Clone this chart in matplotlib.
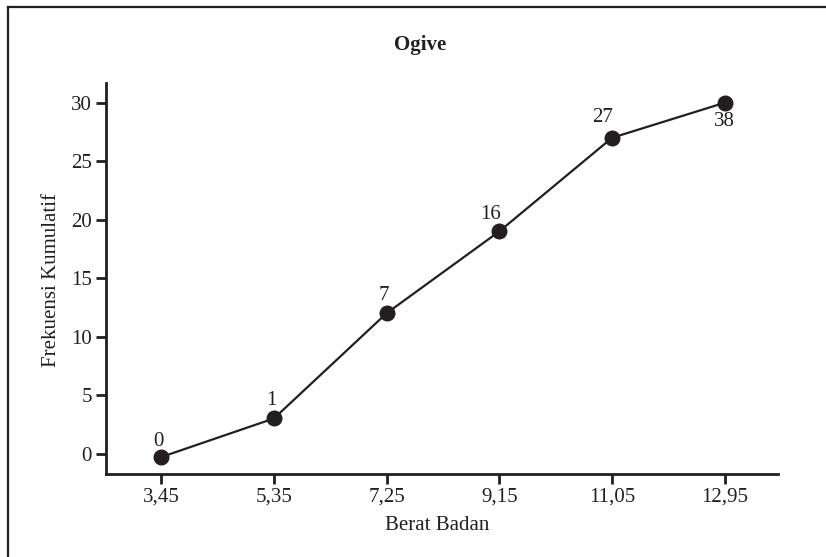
import matplotlib
matplotlib.use("Agg")
import matplotlib.pyplot as plt
from matplotlib.lines import Line2D

# Data
categories = ["3,45", "5,35", "7,25", "9,15", "11,05", "12,95"]
values = [-0.3, 3, 12, 19, 27, 30]
point_labels = ["0", "1", "7", "16", "27", "38"]
yticks = [0, 5, 10, 15, 20, 25, 30]

# Style
label_offsets = [(-2, 11.5), (-2, 12.7), (-2, 13), (-6, 12), (-7, 14.4), (0, -13.7)]
ink = "#231f20"
fs = 15
plt.rcParams["font.family"] = ["Liberation Serif", "DejaVu Serif"]

W, H = 826, 557
fig = plt.figure(figsize=(W / 100, H / 100), dpi=100)
ax = fig.add_axes([106 / W, 1 - 474 / H, (778.3 - 106) / W, (474 - 83.3) / H])

x = list(range(len(categories)))
ax.plot(x, values, color=ink, lw=1.6, marker="o", markersize=10.5,
        markerfacecolor=ink, markeredgecolor=ink, zorder=3, clip_on=False)

for xi, yi, lab, off in zip(x, values, point_labels, label_offsets):
    ax.annotate(lab, (xi, yi), xytext=off, textcoords="offset points",
                ha="center", va="center", fontsize=fs, color=ink)

ax.set_xlim(-0.49, 5.475)
ax.set_ylim(-1.75, 31.66)
ax.set_xticks(x)
ax.set_xticklabels(categories)
ax.set_yticks(yticks)
ax.set_yticklabels([str(v) for v in yticks])

for side in ["top", "right"]:
    ax.spines[side].set_visible(False)
for side in ["left", "bottom"]:
    ax.spines[side].set_linewidth(2)
    ax.spines[side].set_color(ink)

ax.tick_params(axis="both", direction="out", length=7, width=2, colors=ink,
               labelsize=fs, labelcolor=ink, pad=3)

fig.text(420 / W, 1 - 45 / H, "Ogive", ha="center", va="center",
         fontsize=fs, fontweight="bold", color=ink)
fig.text(437 / W, 1 - 526 / H, "Berat Badan", ha="center", va="center",
         fontsize=fs, color=ink)
fig.text(52 / W, 1 - 280 / H, "Frekuensi Kumulatif", ha="center", va="center",
         rotation=90, fontsize=fs, color=ink)

# Frame border (top and left visible)
fig.add_artist(Line2D([8 / W, 1.0], [1 - 7 / H, 1 - 7 / H], color=ink, lw=1.6,
                      transform=fig.transFigure))
fig.add_artist(Line2D([8 / W, 8 / W], [1 - 7 / H, 0.0], color=ink, lw=1.6,
                      transform=fig.transFigure))

fig.savefig("out.png", dpi=100)
